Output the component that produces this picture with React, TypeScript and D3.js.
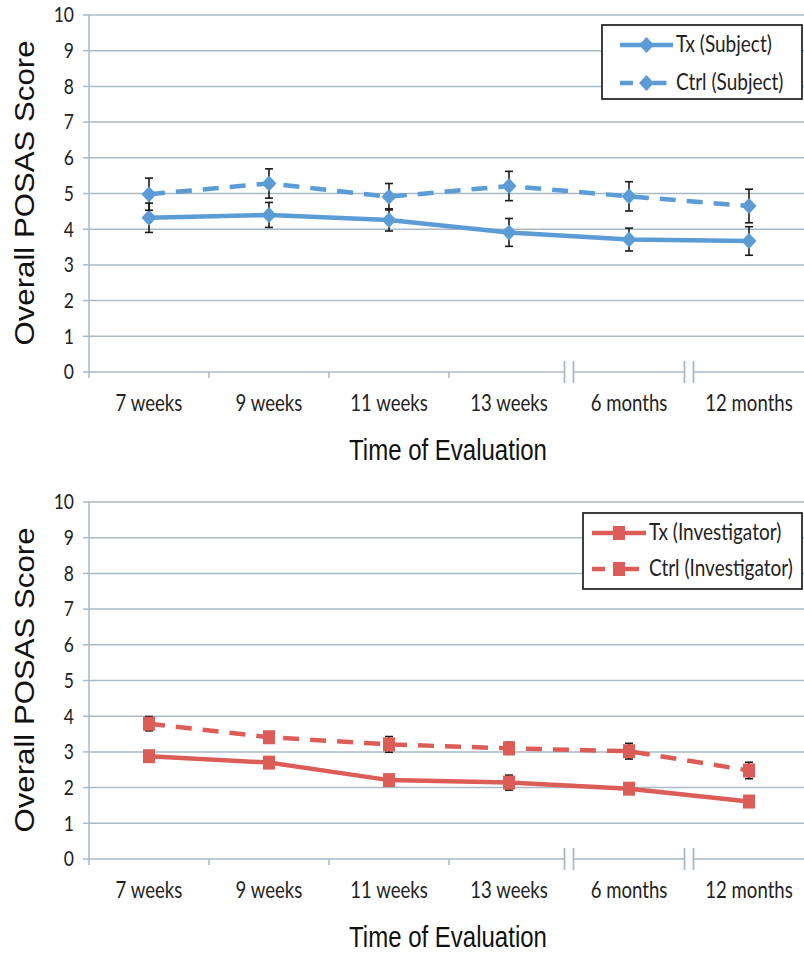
import React from "react";
import * as d3 from "d3";

const categories = ["7 weeks", "9 weeks", "11 weeks", "13 weeks", "6 months", "12 months"];
const yTicks = [0, 1, 2, 3, 4, 5, 6, 7, 8, 9, 10];

const txSubject = [4.32, 4.4, 4.26, 3.91, 3.71, 3.67];
const txSubjectErr = [0.41, 0.35, 0.31, 0.39, 0.32, 0.4];
const ctrlSubject = [4.98, 5.28, 4.91, 5.21, 4.92, 4.65];
const ctrlSubjectErr = [0.45, 0.41, 0.37, 0.41, 0.41, 0.47];

const txInvestigator = [2.88, 2.7, 2.21, 2.14, 1.97, 1.61];
const txInvestigatorErr = [0.08, 0.08, 0.08, 0.21, 0.08, 0.08];
const ctrlInvestigator = [3.79, 3.41, 3.21, 3.1, 3.02, 2.48];
const ctrlInvestigatorErr = [0.2, 0.1, 0.22, 0.17, 0.22, 0.23];

const BLUE = "#5b9bd6";
const RED = "#dc5c57";
const GRID = "#a9bac6";
const TICKFONT = "Lato, 'Open Sans', sans-serif";
const TITLEFONT = "'Liberation Sans', Arial, sans-serif";

type Series = { name: string; values: number[]; err: number[]; dashed: boolean };

function Marker({ shape, x, y, color }: { shape: string; x: number; y: number; color: string }) {
  if (shape === "diamond") {
    const w = 7.5, h = 8;
    return <path d={`M${x},${y - h}L${x + w},${y}L${x},${y + h}L${x - w},${y}Z`} fill={color} />;
  }
  return <rect x={x - 6} y={y - 7} width={12} height={14} fill={color} />;
}

function Panel({ top, series, color, shape, legend }: {
  top: number; series: Series[]; color: string; shape: string;
  legend: { x0: number; y0: number; x1: number; y1: number; lx0: number; lx1: number; tx: number; rows: number[] };
}) {
  const y = d3.scaleLinear().domain([0, 10]).range([top + 357, top]);
  const x = d3.scaleBand<string>().domain(categories).range([89, 809]);
  const cx = (c: string) => (x(c) as number) + x.bandwidth() / 2;
  const y0 = y(0);
  const breaks = [categories[4], categories[5]].map((c) => x(c) as number);
  const line = d3.line<number>().x((_, i) => cx(categories[i])).y((v) => y(v));
  const sy = 1.22;
  const axisSegs: [number, number][] = [];
  let prev = 89;
  breaks.forEach((b) => { axisSegs.push([prev, b - 4.5]); prev = b + 4.5; });
  axisSegs.push([prev, 804]);
  return (
    <g>
      {yTicks.map((t) => (
        <g key={t}>
          {t > 0 && <line x1={89} x2={804} y1={y(t)} y2={y(t)} stroke={GRID} strokeWidth={1.5} />}
          <line x1={83} x2={89} y1={y(t)} y2={y(t)} stroke={GRID} strokeWidth={1.5} />
          <text x={74} y={0} transform={`translate(0,${y(t) + 6 * sy}) scale(1,${sy})`} textAnchor="end"
            fontFamily={TICKFONT} fontSize={17.5} fill="#222">{t}</text>
        </g>
      ))}
      <line x1={89} x2={89} y1={top} y2={y0 + 6} stroke={GRID} strokeWidth={1.5} />
      {axisSegs.map(([a, b], i) => (
        <line key={i} x1={a} x2={b} y1={y0} y2={y0} stroke={GRID} strokeWidth={1.5} />
      ))}
      {categories.slice(1, 4).map((c) => (
        <line key={c} x1={x(c)} x2={x(c)} y1={y0} y2={y0 + 6} stroke={GRID} strokeWidth={1.5} />
      ))}
      {breaks.map((b, i) => (
        <g key={i}>
          <line x1={b - 4.5} x2={b - 4.5} y1={y0 - 11} y2={y0 + 11} stroke={GRID} strokeWidth={1.8} />
          <line x1={b + 4.5} x2={b + 4.5} y1={y0 - 11} y2={y0 + 11} stroke={GRID} strokeWidth={1.8} />
        </g>
      ))}
      {categories.map((c) => (
        <text key={c} x={cx(c)} y={0} transform={`translate(0,${y0 + 39}) scale(1,${sy})`} textAnchor="middle"
          fontFamily={TICKFONT} fontSize={18.6} fill="#222">{c}</text>
      ))}
      <text x={448} y={0} transform={`translate(0,${y0 + 88}) scale(1,${sy})`} textAnchor="middle"
        fontFamily={TITLEFONT} fontSize={24} fill="#111">Time of Evaluation</text>
      <text transform={`translate(34,${top + 178}) rotate(-90)`} textAnchor="middle" fontFamily={TITLEFONT}
        fontSize={27} fill="#111" textLength={305} lengthAdjust="spacingAndGlyphs">Overall POSAS Score</text>
      {series.map((s) => (
        <g key={s.name}>
          <path d={line(s.values) || ""} fill="none" stroke={color} strokeWidth={4.5}
            strokeDasharray={s.dashed ? "16 11" : undefined} />
          {s.values.map((v, i) => {
            const px = cx(categories[i]);
            const hi = y(v + s.err[i]), lo = y(v - s.err[i]);
            return (
              <g key={i} stroke="#1a1a1a" strokeWidth={1.6}>
                <line x1={px} x2={px} y1={hi} y2={lo} />
                <line x1={px - 4} x2={px + 4} y1={hi} y2={hi} />
                <line x1={px - 4} x2={px + 4} y1={lo} y2={lo} />
              </g>
            );
          })}
          {s.values.map((v, i) => (
            <Marker key={i} shape={shape} x={cx(categories[i])} y={y(v)} color={color} />
          ))}
        </g>
      ))}
      <rect x={legend.x0} y={legend.y0} width={legend.x1 - legend.x0} height={legend.y1 - legend.y0}
        fill="white" stroke="#2a2a2a" strokeWidth={1.8} />
      {series.map((s, i) => {
        const ly = legend.rows[i];
        const mx = (legend.lx0 + legend.lx1) / 2;
        return (
          <g key={s.name}>
            {s.dashed ? (
              <g stroke={color} strokeWidth={4.5}>
                <line x1={legend.lx0} x2={legend.lx0 + 13} y1={ly} y2={ly} />
                <line x1={mx + 6} x2={mx + 20} y1={ly} y2={ly} />
              </g>
            ) : (
              <line x1={legend.lx0} x2={legend.lx1} y1={ly} y2={ly} stroke={color} strokeWidth={4.5} />
            )}
            <Marker shape={shape} x={mx} y={ly} color={color} />
            <text x={legend.tx} y={0} transform={`translate(0,${ly + 6 * sy}) scale(1,${sy})`}
              fontFamily={TICKFONT} fontSize={19} fill="#222">{s.name}</text>
          </g>
        );
      })}
    </g>
  );
}

export default function App() {
  const topSeries: Series[] = [
    { name: "Tx (Subject)", values: txSubject, err: txSubjectErr, dashed: false },
    { name: "Ctrl (Subject)", values: ctrlSubject, err: ctrlSubjectErr, dashed: true },
  ];
  const botSeries: Series[] = [
    { name: "Tx (Investigator)", values: txInvestigator, err: txInvestigatorErr, dashed: false },
    { name: "Ctrl (Investigator)", values: ctrlInvestigator, err: ctrlInvestigatorErr, dashed: true },
  ];
  return (
    <svg width={804} height={954} style={{ position: "absolute", left: 0, top: 0, background: "white" }}>
      <rect width={804} height={954} fill="white" />
      <Panel top={15} series={topSeries} color={BLUE} shape="diamond"
        legend={{ x0: 602, y0: 25, x1: 802, y1: 99, lx0: 620, lx1: 673, tx: 676, rows: [45, 83] }} />
      <Panel top={502} series={botSeries} color={RED} shape="square"
        legend={{ x0: 583, y0: 513, x1: 802, y1: 589, lx0: 592, lx1: 646, tx: 649, rows: [533, 569] }} />
    </svg>
  );
}
